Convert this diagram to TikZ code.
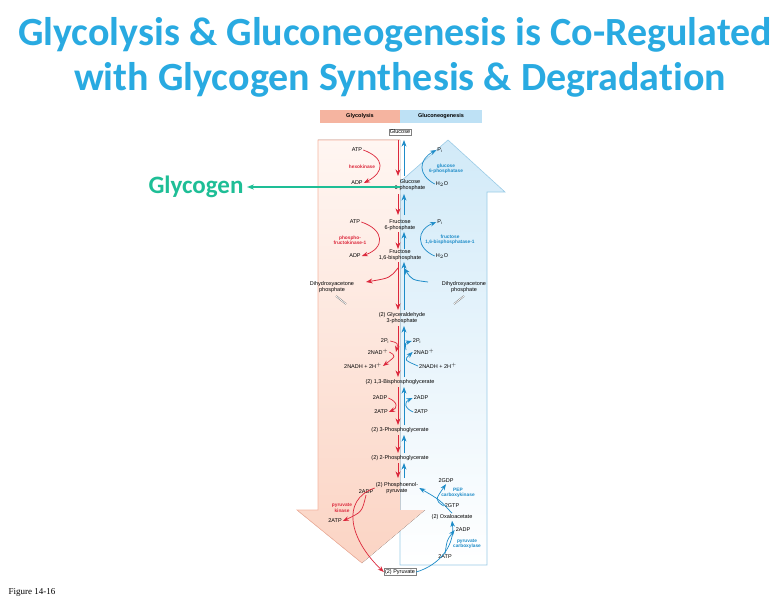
\documentclass[tikz,border=0pt]{standalone}
\usepackage{fontspec}
\setmainfont{Liberation Sans}
\newfontfamily\titlefont[Ligatures=NoCommon]{Carlito}
\newfontfamily\figfont{Liberation Serif}
\usetikzlibrary{positioning}
\usetikzlibrary{arrows.meta}
\definecolor{titleblue}{RGB}{41,170,225}
\definecolor{glyred}{RGB}{220,40,60}
\definecolor{gngblue}{RGB}{30,140,200}
\definecolor{glygreen}{RGB}{30,190,150}
\definecolor{salmon}{RGB}{245,180,160}
\definecolor{pinktop}{RGB}{255,246,242}
\definecolor{pinkbot}{RGB}{251,212,196}
\definecolor{skyhead}{RGB}{190,225,245}
\tikzset{>=Stealth}
\tikzset{
  met/.style={font=\fontsize{5.5}{6.2}\selectfont, align=center, inner sep=1pt},
  cof/.style={font=\fontsize{5.5}{6.2}\selectfont, inner sep=1pt},
  enzr/.style={font=\bfseries\fontsize{4.8}{5.4}\selectfont, text=glyred, align=center, inner sep=1pt},
  enzb/.style={font=\bfseries\fontsize{4.8}{5.4}\selectfont, text=gngblue, align=center, inner sep=1pt},
  down/.style={glyred, ->, line width=0.8pt},
  up/.style={gngblue, ->, line width=0.8pt}
}

\begin{document}
\begin{tikzpicture}[x=1pt,y=-1pt]
\useasboundingbox (0,0) rectangle (782,607);

% ---------------- Title ----------------
\node[font=\titlefont\bfseries\fontsize{40}{44}\selectfont, text=titleblue] (title1) at (395,35) {Glycolysis \& Gluconeogenesis is Co-Regulated};
\node[font=\titlefont\bfseries\fontsize{40}{44}\selectfont, text=titleblue] (title2) at (400,80) {with Glycogen Synthesis \& Degradation};

% ---------------- Big arrows ----------------
\draw[draw=gngblue!45, top color=skyhead!70, bottom color=white, line width=0.6pt]
  (400,565) -- (400,195) -- (385,195) -- (448,140) -- (505,192) -- (487,192) -- (487,565) -- cycle;
\fill[top color=pinktop, bottom color=pinkbot]
  (318,140) -- (400,140) -- (400,510) -- (425,510) -- (362,563) -- (297,510) -- (318,510) -- cycle;
\draw[salmon, line width=0.6pt] (400,140) -- (318,140) -- (318,510) -- (297,510) -- (362,563);

% ---------------- Header ----------------
\fill[salmon] (320,110) rectangle (400,123);
\fill[skyhead] (400,110) rectangle (482,123);
\node[font=\bfseries\fontsize{5.5}{6}\selectfont] (hglyc) at (360,116.5) {Glycolysis};
\node[font=\bfseries\fontsize{5.5}{6}\selectfont] (hgng) at (441,116.5) {Gluconeogenesis};

% ---------------- Metabolites ----------------
\node[met, draw=gray, fill=white] (glc) at (400,132) {Glucose};
\node[met] (g6p) at (410,185) {Glucose\\6-phosphate};
\node[met] (f6p) at (400,225) {Fructose\\6-phosphate};
\node[met] (fbp) at (400,255) {Fructose\\1,6-bisphosphate};
\node[met] (dhapl) at (332,287) {Dihydroxyacetone\\phosphate};
\node[met] (dhapr) at (464,287) {Dihydroxyacetone\\phosphate};
\node[met] (gap) at (402,318) {(2) Glyceraldehyde\\3-phosphate};
\node[met] (bpg) at (400,382) {(2) 1,3-Bisphosphoglycerate};
\node[met] (pg3) at (400,430) {(2) 3-Phosphoglycerate};
\node[met] (pg2) at (400,458) {(2) 2-Phosphoglycerate};
\node[met] (pep) at (397,488) {(2) Phosphoenol-\\pyruvate};
\node[met] (oaa) at (452,517) {(2) Oxaloacetate};
\node[met, draw=gray, fill=white] (pyr) at (400,572) {(2) Pyruvate};

% ---------------- Glycogen ----------------
\node[font=\titlefont\bfseries\fontsize{25}{28}\selectfont, text=glygreen] (glycogen) at (196,187) {Glycogen};
\coordinate (gstart) at (400,187);
\draw[glygreen, line width=1.4pt, -{Stealth[length=7pt]}] (gstart) -- (glycogen.east);

% ---------------- Main path ----------------
\draw[down] (398,140) -- (398,176);
\draw[up] (404,176) -- (404,140);
\draw[down] (398,194) -- (398,215);
\draw[up] (404,215) -- (404,194);
\draw[down] (398,232) -- (398,249);
\draw[up] (404,249) -- (404,232);
\draw[down] (398,262) -- (398,310);
\draw[up] (404,310) -- (404,262);
\draw[down] (398,326) -- (398,377);
\draw[up] (404,377) -- (404,326);
\draw[down] (398,387) -- (398,425);
\draw[up] (404,425) -- (404,387);
\draw[down] (398,435) -- (398,453);
\draw[up] (404,453) -- (404,435);
\draw[down] (398,463) -- (398,478);
\draw[up] (404,478) -- (404,463);
\draw[down] (398,268) .. controls (390,278) .. (366,282);
\draw[up] (428,282) .. controls (412,280) .. (404,268);
\draw[double, gray, line width=0.5pt] (336,296) -- (346,304);
\draw[double, gray, line width=0.5pt] (464,296) -- (454,304);

% ---------------- Hexokinase / G6Pase ----------------
\node[cof] (atp1) at (357,150) {ATP};
\node[cof] (adp1) at (357,183) {ADP};
\node[enzr] (hk) at (362,167) {hexokinase};
\draw[glyred, ->, line width=0.7pt] (atp1.east) .. controls (385,158) and (385,172) .. (adp1.east);
\node[cof] (pi1) at (440,150) {P$_\mathrm{i}$};
\node[cof] (h2o1) at (442,184) {H$_2$O};
\node[enzb] (g6pase) at (446,169) {glucose\\6-phosphatase};
\draw[gngblue, ->, line width=0.7pt] (h2o1.west) .. controls (418,175) and (418,160) .. (pi1.west);

% ---------------- PFK / FBPase ----------------
\node[cof] (atp2) at (355,222) {ATP};
\node[cof] (adp2) at (355,256) {ADP};
\node[enzr] (pfk) at (350,240) {phospho-\\fructokinase-1};
\draw[glyred, ->, line width=0.7pt] (atp2.east) .. controls (385,230) and (385,248) .. (adp2.east);
\node[cof] (pi2) at (440,222) {P$_\mathrm{i}$};
\node[cof] (h2o2) at (442,256) {H$_2$O};
\node[enzb] (fbpase) at (450,240) {fructose\\1,6-bisphosphatase-1};
\draw[gngblue, ->, line width=0.7pt] (h2o2.west) .. controls (416,248) and (416,230) .. (pi2.west);

% ---------------- GAPDH ----------------
\node[cof] (pil) at (385,341) {2P$_\mathrm{i}$};
\node[cof] (nadl) at (378,352) {2NAD$^+$};
\node[cof] (nadhl) at (363,366) {2NADH + 2H$^+$};
\draw[glyred, ->, line width=0.7pt] (pil.east) .. controls (398,343) .. (396,352);
\draw[glyred, ->, line width=0.7pt] (nadl.east) .. controls (396,356) .. (nadhl.east);
\node[cof] (pir) at (417,341) {2P$_\mathrm{i}$};
\node[cof] (nadr) at (424,352) {2NAD$^+$};
\node[cof] (nadhr) at (438,366) {2NADH + 2H$^+$};
\draw[gngblue, ->, line width=0.7pt] (nadhr.west) .. controls (404,360) .. (nadr.west);
\draw[gngblue, ->, line width=0.7pt] (406,350) .. controls (405,343) .. (pir.west);

% ---------------- PGK ----------------
\node[cof] (adpl) at (380,398) {2ADP};
\node[cof] (atpl) at (381,412) {2ATP};
\draw[glyred, ->, line width=0.7pt] (adpl.east) .. controls (398,402) and (398,408) .. (atpl.east);
\node[cof] (adpr) at (421,398) {2ADP};
\node[cof] (atpr) at (421,412) {2ATP};
\draw[gngblue, ->, line width=0.7pt] (atpr.west) .. controls (404,408) and (404,402) .. (adpr.west);

% ---------------- Pyruvate kinase ----------------
\node[cof] (adp3) at (366,492) {2ADP};
\node[enzr] (pk) at (342,508) {pyruvate\\kinase};
\node[cof] (atp3) at (335,521) {2ATP};
\draw[glyred, ->, line width=0.7pt] (pep.west) .. controls (340,500) and (350,540) .. (pyr.west);
\draw[glyred, ->, line width=0.7pt] (adp3.south) .. controls (362,512) .. (atp3.east);

% ---------------- PEPCK / PC ----------------
\node[cof] (gdp) at (446,481) {2GDP};
\node[enzb] (pepck) at (458,493) {PEP\\carboxykinase};
\node[cof] (gtp) at (452,506) {2GTP};
\node[cof] (adp4) at (463,530) {2ADP};
\node[enzb] (pc) at (467,544) {pyruvate\\carboxylase};
\node[cof] (atp4) at (445,557) {2ATP};
\draw[gngblue, ->, line width=0.7pt] (pyr.east) .. controls (440,565) and (455,545) .. (oaa.south);
\draw[gngblue, ->, line width=0.7pt] (atp4.north) .. controls (447,540) .. (adp4.west);
\draw[gngblue, ->, line width=0.7pt] (oaa.north) .. controls (440,500) .. (pep.east);
\draw[gngblue, ->, line width=0.7pt] (gtp.west) .. controls (435,500) .. (gdp.south);

% ---------------- Figure label ----------------
\node[font=\figfont\fontsize{9}{10}\selectfont, anchor=west] (fig) at (5,592) {Figure 14-16};
\end{tikzpicture}
\end{document}
